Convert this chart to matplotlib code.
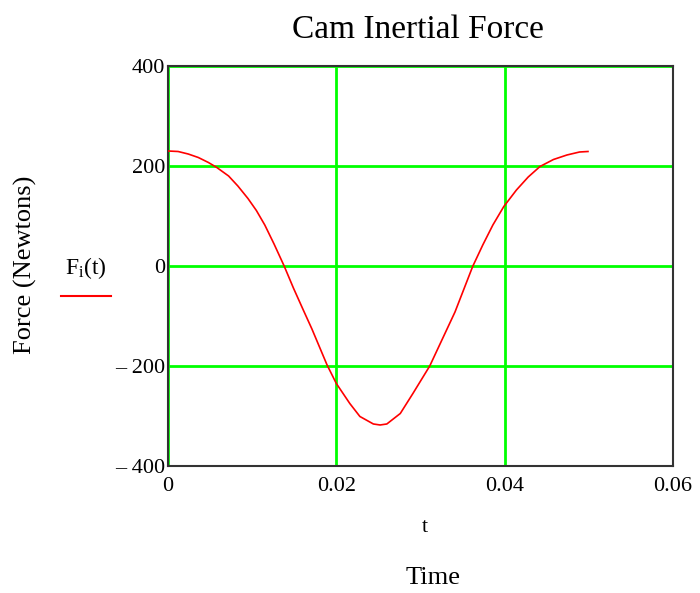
import matplotlib
matplotlib.use("Agg")
import matplotlib.pyplot as plt

plt.rcParams["font.family"] = ["Liberation Serif", "DejaVu Serif"]
plt.rcParams["mathtext.fontset"] = "custom"
plt.rcParams["mathtext.rm"] = "Liberation Serif"
plt.rcParams["mathtext.it"] = "Liberation Serif"

# values
t = [0.0, 0.0012, 0.0024, 0.0036, 0.0048, 0.0058, 0.0072, 0.0083, 0.0095,
     0.0105, 0.0115, 0.0126, 0.0138, 0.0149, 0.0161, 0.0171, 0.0181, 0.0189,
     0.0200, 0.0216, 0.0228, 0.0244, 0.0252, 0.0260, 0.0276, 0.0291, 0.0311,
     0.0331, 0.0341, 0.0362, 0.0374, 0.0386, 0.0399, 0.0414, 0.0428, 0.0442,
     0.0458, 0.0474, 0.0489, 0.0499]
force = [230, 229, 224, 217, 207, 197, 180, 160, 135,
         111, 82, 44, 0, -44, -89, -126, -166, -198,
         -235, -275, -301, -316, -318, -316, -295, -255, -200,
         -128, -92, -1, 42, 82, 119, 152, 178, 199,
         213, 222, 228, 229]

x_ticks = [0, 0.02, 0.04, 0.06]
x_tick_labels = ["0", "0.02", "0.04", "0.06"]
y_ticks = [-400, -200, 0, 200, 400]
y_tick_labels = ["\u2013 400", "\u2013 200", "0", "200", "400"]

fig = plt.figure(figsize=(7.0, 5.93), dpi=100)
ax = fig.add_axes([0.24, 0.2142, 0.7214, 0.6745])

ax.plot(t, force, color="red", lw=1.2, zorder=3)

ax.set_xlim(0, 0.06)
ax.set_ylim(-400, 400)
ax.set_xticks(x_ticks)
ax.set_xticklabels(x_tick_labels)
ax.set_yticks(y_ticks)
ax.set_yticklabels(y_tick_labels)
ax.tick_params(length=0, labelsize=16)
ax.tick_params(axis="x", pad=8)
ax.tick_params(axis="y", pad=2)
ax.grid(True, color="#00ff00", lw=2)
ax.set_axisbelow(True)
for s in ax.spines.values():
    s.set_color("#333333")
    s.set_linewidth(1.5)

fig.text(418 / 700, 1 - 30 / 593, "Cam Inertial Force", ha="center",
         va="center", fontsize=24)
fig.text(25 / 700, 1 - 265 / 593, "Force (Newtons)", rotation=90,
         ha="center", va="center", fontsize=19)
fig.text(425 / 700, 1 - 527 / 593, "t", ha="center", va="center", fontsize=16)
fig.text(433 / 700, 1 - 578 / 593, "Time", ha="center", va="center",
         fontsize=19)

# legend entry
fig.text(86 / 700, 1 - 268 / 593, r"$\mathrm{F_i(t)}$", ha="center",
         va="center", fontsize=17)
fig.add_artist(plt.Line2D([61 / 700, 111 / 700], [1 - 296 / 593, 1 - 296 / 593],
                          color="red", lw=1.5, transform=fig.transFigure))

fig.savefig("out.png", dpi=100)
